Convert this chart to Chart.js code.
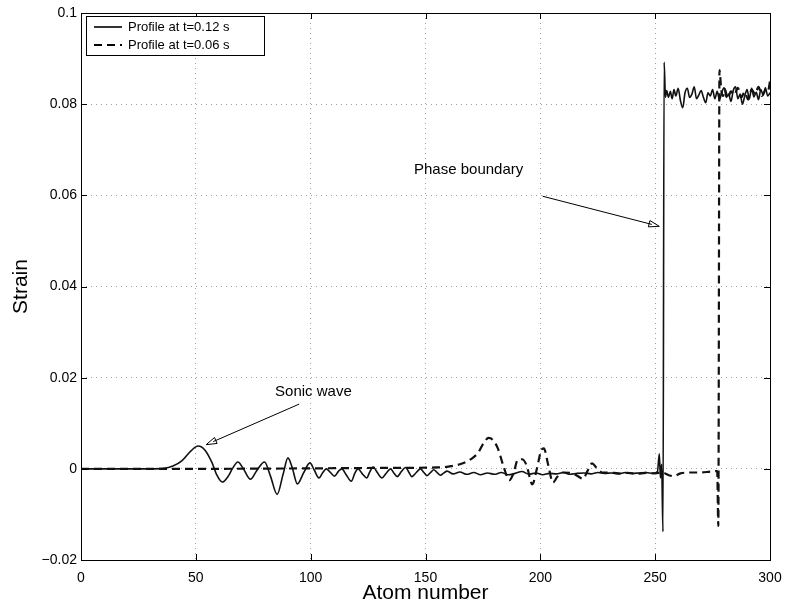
<!DOCTYPE html>
<html>
<head>
<meta charset="utf-8">
<script src="https://cdn.jsdelivr.net/npm/chart.js@4.4.1/dist/chart.umd.min.js"></script>
<style>
  html, body { margin: 0; padding: 0; background: #fff; }
  #wrap { width: 788px; height: 603px; position: relative; }
</style>
</head>
<body>
<div id="wrap"><canvas id="strainChart"></canvas></div>
<script>
// Profile at t=0.12 s (solid line)
const atomsLate = [
    0, 30, 36, 40, 44, 48, 51, 54, 57, 59,
    61.5, 64, 66, 68.3, 70.5, 73.8, 76.5, 79.9, 82.5, 85.4,
    88, 90.1, 92, 94.2, 97, 99.7, 101.5, 103.6, 105.3, 106.8,
    108.6, 110.4, 112, 113.5, 115.6, 117.7, 119.2, 120.6, 122.5, 124.4,
    125.8, 127.2, 129, 131, 133, 134.8, 136.2, 137.7, 139.5, 141.3,
    142.7, 144, 146, 147.8, 149.3, 150.7, 152.2, 153.6, 155, 156.5,
    158, 159.4, 162, 165, 168, 171, 174, 177, 180, 183,
    186, 189, 192, 195, 198, 201, 204, 207, 210, 213,
    216, 219, 222, 225, 228, 231, 234, 237, 240, 243,
    246, 249, 251, 251.8, 252.3, 252.8, 253.4, 253.9, 254.5, 255,
    255.8, 256.6, 257.4, 258.2, 259, 260, 261, 262, 263, 264,
    265, 266, 267, 268, 269, 270, 271, 272, 273, 274,
    275, 276, 277, 278, 279, 280, 281, 282, 283, 284,
    285, 286, 287, 288, 289, 290, 291, 292, 293, 294,
    295, 296, 297, 298, 299, 300
];
const strainLate = [
    0, 0, 0.0001, 0.0006, 0.0018, 0.0040, 0.0050, 0.0041, 0.0014, -0.0012,
    -0.0029, -0.0017, 0.0001, 0.0015, 0.0002, -0.0023, -0.0004, 0.0015, -0.0016, -0.0056,
    -0.0012, 0.0024, 0.0002, -0.0033, -0.0008, 0.0013, -0.0002, -0.0020, -0.0008, 0.0000,
    -0.0008, -0.0016, -0.0006, 0.0000, -0.0014, -0.0027, -0.0010, 0.0000, -0.0011, -0.0020,
    -0.0006, 0.0004, -0.0008, -0.0020, -0.0009, 0.0000, -0.0009, -0.0017, -0.0006, 0.0003,
    -0.0007, -0.0017, -0.0008, 0.0000, -0.0008, -0.0015, -0.0008, -0.0002, -0.0008, -0.0014,
    -0.0009, -0.0005, -0.0011, -0.0007, -0.0012, -0.0008, -0.0013, -0.0009, -0.0012, -0.0008,
    -0.0013, -0.0010, -0.0006, -0.0012, -0.0009, -0.0013, -0.0010, -0.0011, -0.0008, -0.0012,
    -0.0010, -0.0009, -0.0011, -0.0008, -0.0010, -0.0009, -0.0011, -0.0008, -0.0010, -0.0009,
    -0.0008, -0.0010, -0.0006, 0.0033, -0.0020, 0.0010, -0.0138, 0.0892, 0.0815, 0.0830,
    0.0815, 0.0828, 0.0812, 0.0832, 0.0818, 0.0835, 0.0808, 0.0792, 0.0825, 0.0835,
    0.0815, 0.0822, 0.0838, 0.0812, 0.0820, 0.0830, 0.0815, 0.0803, 0.0825, 0.0818,
    0.0832, 0.0812, 0.0828, 0.0810, 0.0826, 0.0836, 0.0815, 0.0822, 0.0806, 0.0830,
    0.0838, 0.0812, 0.0822, 0.0800, 0.0818, 0.0832, 0.0812, 0.0835, 0.0816, 0.0826,
    0.0810, 0.0832, 0.0820, 0.0836, 0.0818, 0.0825
];

// Profile at t=0.06 s (dashed line)
const atomsEarly = [
    0, 50, 100, 130, 155, 160, 165, 170, 173, 175.5,
    177.5, 179.2, 181.5, 184, 186.5, 188.3, 190.2, 192, 194, 196.5,
    198.5, 200.5, 201.5, 203.5, 205.5, 207.5, 210, 213.5, 216, 218.6,
    220.5, 222.5, 224.5, 227, 230, 234, 238, 242, 246, 250,
    253, 256, 258, 261, 265, 270, 274, 277, 277.5, 278,
    278.8, 279.6, 280.4, 281.5, 283, 284.5, 286, 287.5, 289, 290.5,
    292, 293.5, 295, 296.5, 298, 299, 300
];
const strainEarly = [
    0, 0, 0.0001, 0.0002, 0.0003, 0.0005, 0.0010, 0.0022, 0.0036, 0.0058,
    0.0068, 0.0064, 0.0045, 0.0005, -0.0025, -0.0010, 0.0020, 0.0021, 0.0008, -0.0034,
    0.0000, 0.0042, 0.0045, 0.0007, -0.0030, -0.0017, -0.0008, -0.0009, -0.0015, -0.0022,
    -0.0005, 0.0012, 0.0002, -0.0008, -0.0008, -0.0010, -0.0009, -0.0011, -0.0009, -0.0010,
    -0.0008, -0.0014, -0.0016, -0.0010, -0.0008, -0.0008, -0.0006, -0.0005, -0.0125, 0.0875,
    0.0830, 0.0818, 0.0833, 0.0812, 0.0828, 0.0820, 0.0836, 0.0815, 0.0827, 0.0810,
    0.0832, 0.0822, 0.0838, 0.0818, 0.0830, 0.0826, 0.0850
];

// Axis ticks
const xTickValues = [0, 50, 100, 150, 200, 250, 300];
const xTickLabels = ['0', '50', '100', '150', '200', '250', '300'];
const yTickValues = [-0.02, 0, 0.02, 0.04, 0.06, 0.08, 0.1];
const yTickLabels = ['\u22120.02', '0', '0.02', '0.04', '0.06', '0.08', '0.1'];

const FONT = "'Liberation Sans', Arial, Helvetica, sans-serif";

const toPoints = (xs, ys) => xs.map((v, i) => ({ x: v, y: ys[i] }));

// Text + arrow notes, placed in data coordinates
const notes = [
    { text: 'Sonic wave', at: [84.5, 0.0168], from: [95, 0.0142], to: [54.5, 0.0053] },
    { text: 'Phase boundary', at: [145, 0.0655], from: [201, 0.0598], to: [251.8, 0.0532] }
];

function drawArrow(ctx, x1, y1, x2, y2) {
    const ang = Math.atan2(y2 - y1, x2 - x1);
    const len = 11, spread = 0.3;
    ctx.beginPath();
    ctx.moveTo(x1, y1);
    ctx.lineTo(x2 - len * 0.7 * Math.cos(ang), y2 - len * 0.7 * Math.sin(ang));
    ctx.stroke();
    ctx.beginPath();
    ctx.moveTo(x2, y2);
    ctx.lineTo(x2 - len * Math.cos(ang - spread), y2 - len * Math.sin(ang - spread));
    ctx.lineTo(x2 - len * Math.cos(ang + spread), y2 - len * Math.sin(ang + spread));
    ctx.closePath();
    ctx.stroke();
}

// MATLAB-like frame, inward ticks, boxed legend and notes
const frameAndNotes = {
    id: 'frameAndNotes',
    afterDatasetsDraw(chart) {
        const { ctx, chartArea: a, scales: { x, y } } = chart;
        ctx.save();
        ctx.strokeStyle = '#000';
        ctx.lineWidth = 1;
        ctx.strokeRect(Math.round(a.left) + 0.5, Math.round(a.top) + 0.5,
            Math.round(a.width), Math.round(a.height));

        ctx.beginPath();
        xTickValues.forEach(v => {
            const px = Math.round(x.getPixelForValue(v)) + 0.5;
            ctx.moveTo(px, a.bottom); ctx.lineTo(px, a.bottom - 6);
            ctx.moveTo(px, a.top); ctx.lineTo(px, a.top + 6);
        });
        yTickValues.forEach(v => {
            const py = Math.round(y.getPixelForValue(v)) + 0.5;
            ctx.moveTo(a.left, py); ctx.lineTo(a.left + 6, py);
            ctx.moveTo(a.right, py); ctx.lineTo(a.right - 6, py);
        });
        ctx.stroke();

        // legend box
        const lx = a.left + 5, ly = a.top + 3, lw = 178, lh = 39;
        ctx.fillStyle = '#fff';
        ctx.fillRect(lx, ly, lw, lh);
        ctx.strokeRect(lx + 0.5, ly + 0.5, lw, lh);
        ctx.font = '13px ' + FONT;
        ctx.textBaseline = 'middle';
        ctx.textAlign = 'left';
        ctx.fillStyle = '#000';
        chart.data.datasets.forEach((ds, i) => {
            const yy = ly + 11 + i * 18;
            ctx.lineWidth = ds.borderWidth;
            ctx.setLineDash(ds.borderDash || []);
            ctx.beginPath();
            ctx.moveTo(lx + 8, yy);
            ctx.lineTo(lx + 36, yy);
            ctx.stroke();
            ctx.setLineDash([]);
            ctx.fillText(ds.label, lx + 42, yy);
        });

        // annotations
        ctx.lineWidth = 1;
        ctx.font = '15px ' + FONT;
        notes.forEach(n => {
            ctx.fillText(n.text, x.getPixelForValue(n.at[0]), y.getPixelForValue(n.at[1]));
            drawArrow(ctx,
                x.getPixelForValue(n.from[0]), y.getPixelForValue(n.from[1]),
                x.getPixelForValue(n.to[0]), y.getPixelForValue(n.to[1]));
        });
        ctx.restore();
    }
};

new Chart(document.getElementById('strainChart'), {
    type: 'line',
    data: {
        datasets: [
            {
                label: 'Profile at t=0.12 s',
                data: toPoints(atomsLate, strainLate),
                borderColor: '#111',
                borderWidth: 1.6,
                pointRadius: 0,
                cubicInterpolationMode: 'monotone',
                fill: false
            },
            {
                label: 'Profile at t=0.06 s',
                data: toPoints(atomsEarly, strainEarly),
                borderColor: '#111',
                borderWidth: 2.2,
                borderDash: [8, 5],
                pointRadius: 0,
                cubicInterpolationMode: 'monotone',
                fill: false
            }
        ]
    },
    options: {
        responsive: true,
        maintainAspectRatio: false,
        animation: false,
        layout: { padding: { top: 13, right: 18, left: 0, bottom: 0 } },
        plugins: {
            legend: { display: false },
            tooltip: { enabled: false }
        },
        scales: {
            x: {
                type: 'linear',
                min: 0,
                max: 300,
                afterBuildTicks: s => { s.ticks = xTickValues.map(v => ({ value: v })); },
                afterFit: s => { s.height = 43; s.paddingLeft = 0; s.paddingRight = 0; },
                grid: { color: '#a0a0a0', lineWidth: 1, drawTicks: false },
                border: { display: false, dash: [1, 4] },
                ticks: {
                    color: '#000',
                    padding: 10,
                    font: { family: FONT, size: 14 },
                    callback: (v) => xTickLabels[xTickValues.indexOf(v)]
                },
                title: {
                    display: true,
                    text: 'Atom number',
                    color: '#000',
                    font: { family: FONT, size: 21 },
                    padding: { top: 0, bottom: -3 }
                }
            },
            y: {
                type: 'linear',
                min: -0.02,
                max: 0.1,
                afterBuildTicks: s => { s.ticks = yTickValues.map(v => ({ value: v })); },
                afterFit: s => { s.width = 81; },
                grid: { color: '#a0a0a0', lineWidth: 1, drawTicks: false },
                border: { display: false, dash: [1, 4] },
                ticks: {
                    color: '#000',
                    padding: 4,
                    font: { family: FONT, size: 14 },
                    callback: (v) => {
                        const i = yTickValues.findIndex(t => Math.abs(t - v) < 1e-9);
                        return i >= 0 ? yTickLabels[i] : '';
                    }
                },
                title: {
                    display: true,
                    text: 'Strain',
                    color: '#000',
                    font: { family: FONT, size: 21 },
                    padding: { top: 9, bottom: 0 }
                }
            }
        }
    },
    plugins: [frameAndNotes]
});
</script>
</body>
</html>
